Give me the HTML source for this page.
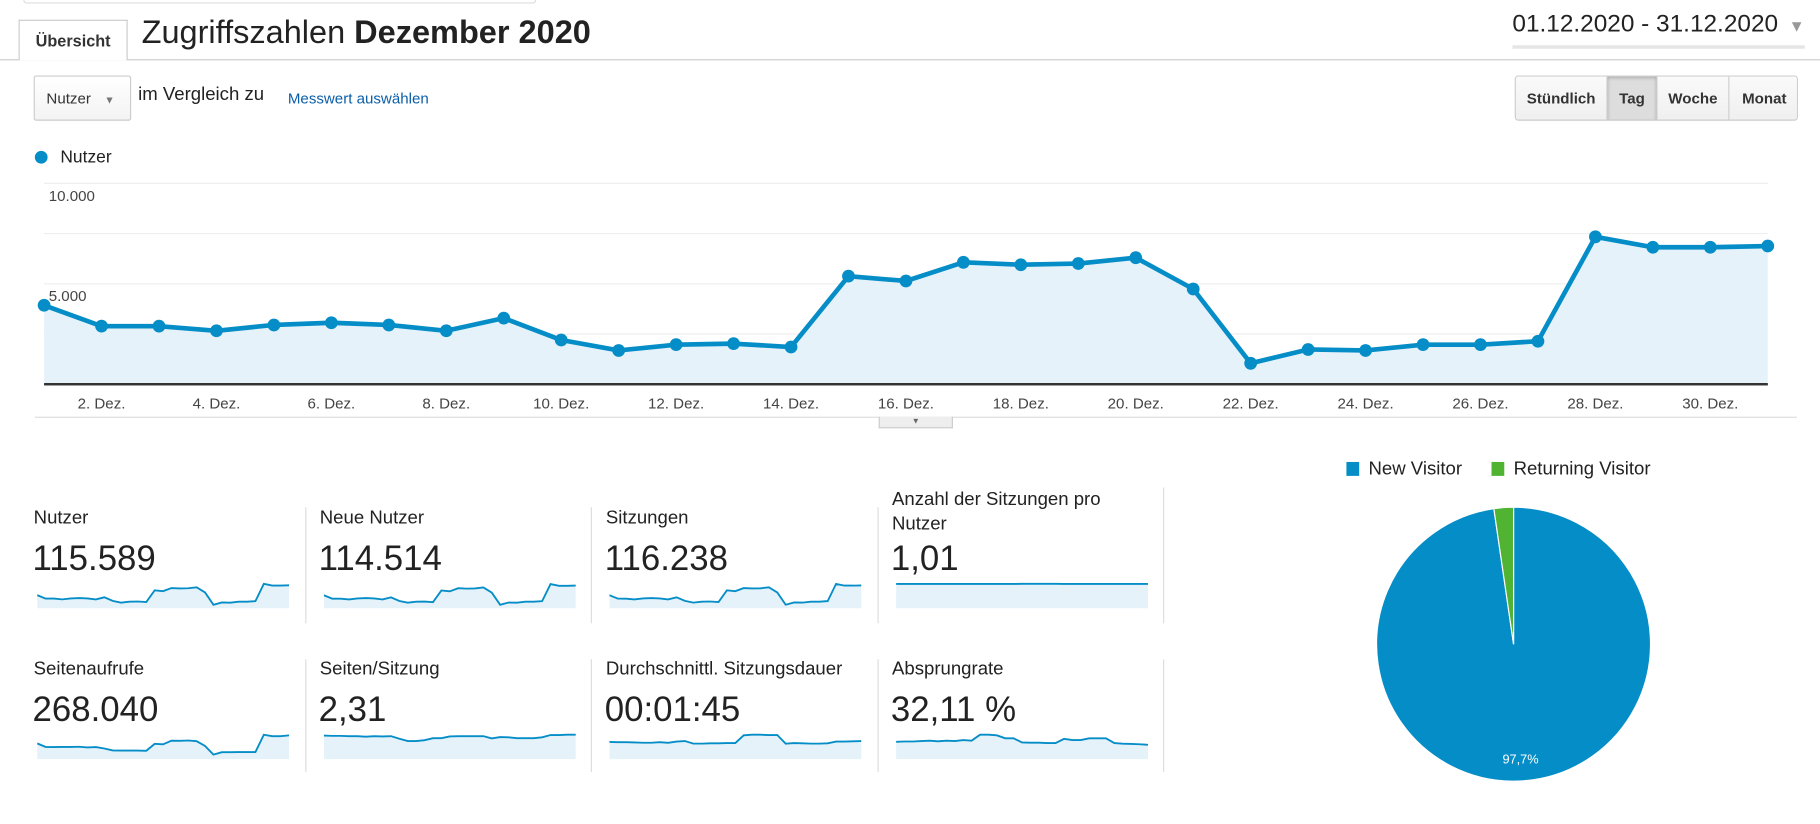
<!DOCTYPE html>
<html><head><meta charset="utf-8">
<style>
html,body{margin:0;padding:0;background:#fff;overflow:hidden}
body{width:1820px;height:824px;position:relative;font-family:"Liberation Sans",Arial,sans-serif;color:#222}
#wrap{position:absolute;left:0;top:0;width:1568px;height:710px;transform:scale(1.16071);transform-origin:0 0}
.abs{position:absolute}
.btn{position:absolute;top:0;height:38px;line-height:38px;text-align:center;font-weight:bold;font-size:13px;color:#333;background:linear-gradient(#fafafa,#efefef);border-right:1px solid #ccc;box-sizing:border-box}
.lbl{position:absolute;font-size:16px;color:#222}
.val{position:absolute;font-size:30px;color:#222}
.div{position:absolute;width:1px;background:#ddd}
</style></head><body>
<div id="wrap">
<div class="abs" style="left:20px;top:-2px;width:440px;height:4px;border:1px solid #ddd;border-top:none;border-radius:0 0 3px 3px"></div>
<div class="abs" style="left:0;top:51px;width:1568px;height:1px;background:#ccc"></div>
<div class="abs" style="left:16px;top:17px;width:94px;height:35px;border:1px solid #ccc;border-bottom:none;background:#fff;box-sizing:border-box;font-weight:bold;font-size:14px;line-height:34px;text-align:center;color:#333">Übersicht</div>
<div class="abs" style="left:122px;top:12px;font-size:28px;color:#222;font-family:'Liberation Sans',sans-serif">Zugriffszahlen <b>Dezember 2020</b></div>
<div class="abs" style="left:1303px;top:9px;font-size:21px;color:#222;width:252px;height:30px;border-bottom:3px solid #e5e5e5">01.12.2020 - 31.12.2020 <span style="color:#999;font-size:14px;position:absolute;left:238px;top:5px">▼</span></div>

<div class="abs" style="left:29px;top:65px;width:84px;height:39px;border:1px solid #ccc;border-radius:2px;background:linear-gradient(#fff,#f3f3f3);box-sizing:border-box;font-size:13px;line-height:38px;padding-left:10px;color:#333">Nutzer <span style="font-size:9px;color:#777;margin-left:8px">▼</span></div>
<div class="abs" style="left:119px;top:73px;font-size:16px">im Vergleich zu</div>
<div class="abs" style="left:248px;top:77px;font-size:13px;color:#0a5ea8">Messwert auswählen</div>

<div class="abs" style="left:1305px;top:65px;width:244px;height:39px;border:1px solid #ccc;border-radius:3px;overflow:hidden;box-sizing:border-box">
<div class="btn" style="left:0;width:79px">Stündlich</div>
<div class="btn" style="left:79px;width:43px;background:#ddd;box-shadow:inset 0 1px 3px rgba(0,0,0,.25)">Tag</div>
<div class="btn" style="left:122px;width:62px">Woche</div>
<div class="btn" style="left:184px;width:60px;border-right:none">Monat</div>
</div>

<div class="abs" style="left:30px;top:130px;width:11px;height:11px;border-radius:50%;background:#058dc7"></div>
<div class="abs" style="left:52px;top:127px;font-size:15px">Nutzer</div>

<svg class="abs" id="chart" style="left:0;top:140px" width="1568" height="240"></svg>
<div class="abs" style="left:30px;top:359px;width:1518px;height:1px;background:#ddd"></div>
<div class="abs" style="left:757px;top:359px;width:64px;height:10px;background:#eee;border:1px solid #ccc;border-top:none;box-sizing:border-box;font-size:7px;line-height:9px;text-align:center;color:#666">▼</div>

<div id="metrics"></div>

<div class="abs" style="left:1160px;top:396px;font-size:16px"><span style="display:inline-block;width:11px;height:12px;background:#058dc7;margin-right:8px;vertical-align:-1px"></span>New Visitor</div>
<div class="abs" style="left:1285px;top:396px;font-size:16px"><span style="display:inline-block;width:11px;height:12px;background:#50b432;margin-right:8px;vertical-align:-1px"></span>Returning Visitor</div>
<svg class="abs" id="pie" style="left:1166px;top:417px" width="280" height="280"></svg>
</div>
<script>
const days=[1,2,3,4,5,6,7,8,9,10,11,12,13,14,15,16,17,18,19,20,21,22,23,24,25,26,27,28,29,30,31];
const users=[3930,2890,2890,2660,2950,3060,2950,2660,3290,2200,1680,1970,2020,1850,5380,5140,6070,5950,6010,6300,4740,1040,1730,1680,1970,1970,2140,7340,6820,6820,6880];
const yTicks=[0,2500,5000,7500,10000];
const yTickLabels={5000:"5.000",10000:"10.000"};
const xTickDays=[2,4,6,8,10,12,14,16,18,20,22,24,26,28,30];
const ns="http://www.w3.org/2000/svg";
function mk(tag,attrs,parent){const e=document.createElementNS(ns,tag);for(const k in attrs)e.setAttribute(k,attrs[k]);parent.appendChild(e);return e;}
const chart=document.getElementById('chart');
const X=d=>38+(d-1)*(1523-38)/30;
const Y=v=>191-v/10000*173;
yTicks.forEach(t=>{const l=mk('line',{x1:38,x2:1523,y1:Y(t),y2:Y(t),stroke:t===0?'#333':'#eee','stroke-width':t===0?2:1},chart);


if(yTickLabels[t]){const tx=mk('text',{x:42,y:Y(t)+15,'font-size':13,fill:'#444'},chart);tx.textContent=yTickLabels[t];

}});
let pts=days.map((d,i)=>X(d)+','+Y(users[i])).join(' ');
const area=mk('polygon',{points:X(1)+','+Y(0)+' '+pts+' '+X(31)+','+Y(0),fill:'#e5f2fa'},chart);


const base=mk('line',{x1:38,x2:1523,y1:Y(0),y2:Y(0),stroke:'#333','stroke-width':2},chart);


const pl=mk('polyline',{points:pts,fill:'none',stroke:'#058dc7','stroke-width':4,'stroke-linejoin':'round'},chart);


days.forEach((d,i)=>{const c=mk('circle',{cx:X(d),cy:Y(users[i]),r:5.5,fill:'#058dc7'},chart);

});
xTickDays.forEach(d=>{const t=mk('text',{x:X(d),y:212,'font-size':13,fill:'#444','text-anchor':'middle'},chart);t.textContent=d+'. Dez.';

});

const metricLabels=["Nutzer","Neue Nutzer","Sitzungen","Anzahl der Sitzungen pro Nutzer","Seitenaufrufe","Seiten/Sitzung","Durchschnittl. Sitzungsdauer","Absprungrate"];
const metricValues=["115.589","114.514","116.238","1,01","268.040","2,31","00:01:45","32,11 %"];
const sparkNewUsers=[3900,2880,2870,2640,2930,3040,2930,2640,3270,2180,1660,1950,2000,1830,5330,5090,6020,5900,5960,6240,4700,1030,1710,1660,1950,1950,2120,7270,6760,6750,6820];
const sparkSessions=[3950,2910,2900,2680,2970,3080,2970,2680,3310,2220,1700,1990,2040,1870,5420,5170,6110,5990,6050,6330,4770,1060,1750,1700,1990,1990,2160,7380,6860,6860,6920];
const sparkSessPerUser=[1.01,1.01,1.01,1.01,1.01,1.01,1.01,1.01,1.01,1.01,1.01,1.01,1.01,1.01,1.01,1.012,1.012,1.012,1.012,1.012,1.011,1.01,1.01,1.01,1.01,1.01,1.01,1.011,1.011,1.011,1.011];
const sparkPageviews=[9800,7600,7500,7600,7600,7700,7300,7500,6600,5400,5300,5300,5300,5200,9500,9200,11500,11400,11600,11200,8200,2800,4300,4300,4400,4400,4400,15200,14300,14300,14800];
const sparkPagesPerSess=[2.42,2.41,2.41,2.40,2.40,2.38,2.40,2.39,2.40,2.31,2.23,2.23,2.26,2.33,2.33,2.39,2.40,2.40,2.40,2.40,2.32,2.37,2.36,2.33,2.33,2.33,2.36,2.44,2.44,2.45,2.45];
const sparkDuration=[100,99,99,98,97,97,99,97,101,103,94,94,95,95,96,96,123,125,125,124,124,94,96,95,94,94,95,101,101,102,103];
const sparkBounce=[30.5,30.8,30.8,31.2,31.5,31.0,31.5,31.2,32.0,31.5,36.5,36.5,36.0,33.5,33.5,30.0,29.8,29.8,29.5,29.5,33.0,32.0,32.0,33.5,33.5,33.5,29.5,29.0,28.8,28.5,28.0];
const sparkSeries=[users,sparkNewUsers,sparkSessions,sparkSessPerUser,sparkPageviews,sparkPagesPerSess,sparkDuration,sparkBounce];
const sparkLo=[0,0,0,0.5,0,1.6,40,16];
const sparkHi=[7340,7340,7400,1.012,15200,2.45,125,36.5];
const M=document.getElementById('metrics');
metricLabels.forEach((lab,i)=>{
 const col=i%4,row=Math.floor(i/4);
 const x=29+col*246.5, y0=row===0?0:130;
 const l=document.createElement('div');l.className='lbl';l.style.left=x+'px';
 if(i===3){l.style.top='420px';l.style.width='220px';l.style.lineHeight='21px';}else l.style.top=(438+y0)+'px';
 l.textContent=lab;
 
 
 M.appendChild(l);
 const v=document.createElement('div');v.className='val';v.style.left=(x-1)+'px';v.style.top=(465+y0)+'px';v.textContent=metricValues[i];
 
 
 M.appendChild(v);
 if(col>0){const dv=document.createElement('div');dv.className='div';dv.style.left=(x-13)+'px';dv.style.top=(row===0?437:568)+'px';dv.style.height=(row===0?100:97)+'px';
 
 
 M.appendChild(dv);}
 if(col===3){const dv=document.createElement('div');dv.className='div';dv.style.left=(x+233)+'px';dv.style.top=(row===0?420:568)+'px';dv.style.height=(row===0?117:97)+'px';
 
 
 M.appendChild(dv);}
 const s=document.createElementNS(ns,'svg');s.setAttribute('width',220);s.setAttribute('height',26);
 s.style.position='absolute';s.style.left=(x+3)+'px';s.style.top=(499+y0)+'px';
 
 
 M.appendChild(s);
 const data=sparkSeries[i],lo=sparkLo[i],hi=sparkHi[i];
 const sx=k=>k*217/30, sy=v=>25-(v-lo)/(hi-lo)*21;
 const p=data.map((v,k)=>sx(k)+','+sy(v)).join(' ');
 mk('polygon',{points:'0,25 '+p+' 217,25',fill:'#e5f2fa'},s);
 mk('polyline',{points:p,fill:'none',stroke:'#058dc7','stroke-width':1.6},s);
});

const pieLabels=["New Visitor","Returning Visitor"];
const pieValues=[97.7,2.3];
const pieColors=['#058dc7','#50b432'];
const pie=document.getElementById('pie');
const cx=138,cy=138,r=118;
let ang=0;
pieValues.forEach((v,i)=>{
 const a0=ang,a1=ang+v/100*2*Math.PI;ang=a1;
 const p=(a)=>[cx+r*Math.sin(a),cy-r*Math.cos(a)];
 const [x0,y0]=p(a0),[x1,y1]=p(a1);
 const large=(a1-a0)>Math.PI?1:0;
 const path=mk('path',{d:`M${cx},${cy} L${x0},${y0} A${r},${r} 0 ${large} 1 ${x1},${y1} Z`,fill:pieColors[i],stroke:'#fff','stroke-width':1},pie);
 
 
});
const pt=mk('text',{x:cx+6,y:cy+103,'font-size':11,fill:'#fff','text-anchor':'middle'},pie);
pt.textContent=pieValues[0].toString().replace('.',',')+'%';


</script>
</body></html>
